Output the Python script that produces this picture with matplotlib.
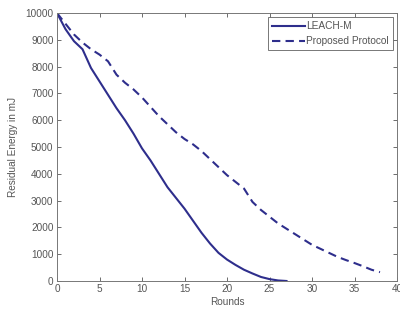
import matplotlib

matplotlib.use("Agg")
import matplotlib.pyplot as plt

leach_rounds = list(range(0, 28))
leach_energy = [10000, 9400, 8950, 8650, 7950, 7450, 6950, 6450, 6000, 5500,
                4950, 4500, 4000, 3500, 3100, 2700, 2250, 1800, 1400, 1050,
                800, 600, 420, 280, 150, 70, 20, 0]

prop_rounds = list(range(0, 39))
prop_energy = [10000, 9600, 9200, 8900, 8650, 8450, 8200, 7700, 7400, 7150,
               6850, 6500, 6150, 5850, 5550, 5300, 5100, 4850, 4550, 4250,
               3950, 3700, 3450, 2950, 2650, 2400, 2150, 1950, 1750, 1550,
               1350, 1200, 1050, 900, 780, 670, 550, 420, 330]

plt.rcParams["font.family"] = ["Liberation Sans", "DejaVu Sans"]

fig = plt.figure(figsize=(4.0, 3.11), dpi=100)
ax = fig.add_axes([0.1425, 0.0965, 0.85, 0.8615])

color = "#2e2e8c"
ax.plot(leach_rounds, leach_energy, "-", color=color, lw=1.5, label="LEACH-M")
ax.plot(prop_rounds, prop_energy, "--", color=color, lw=1.5, dashes=(4, 2.5),
        label="Proposed Protocol")

ax.set_xlim(0, 40)
ax.set_ylim(0, 10000)
ax.set_xticks(range(0, 41, 5))
ax.set_yticks(range(0, 10001, 1000))
ax.tick_params(direction="in", top=True, right=True, labelsize=7.2,
               colors="#555555", length=3, width=0.6, pad=2.5)
for s in ax.spines.values():
    s.set_color("#777777")
    s.set_linewidth(0.7)

ax.set_xlabel("Rounds", fontsize=7.2, color="#555555", labelpad=2)
ax.set_ylabel("Residual Energy in mJ", fontsize=7.2, color="#555555", labelpad=5)

leg = ax.legend(loc="upper right", fontsize=7.3, frameon=True, fancybox=False,
                handlelength=3.2, borderaxespad=0.4, borderpad=0.4,
                labelspacing=0.5, handletextpad=0.15)
leg.get_frame().set_edgecolor("#555555")
leg.get_frame().set_linewidth(0.7)
for t in leg.get_texts():
    t.set_color("#555555")

fig.savefig("out.png", dpi=100)
